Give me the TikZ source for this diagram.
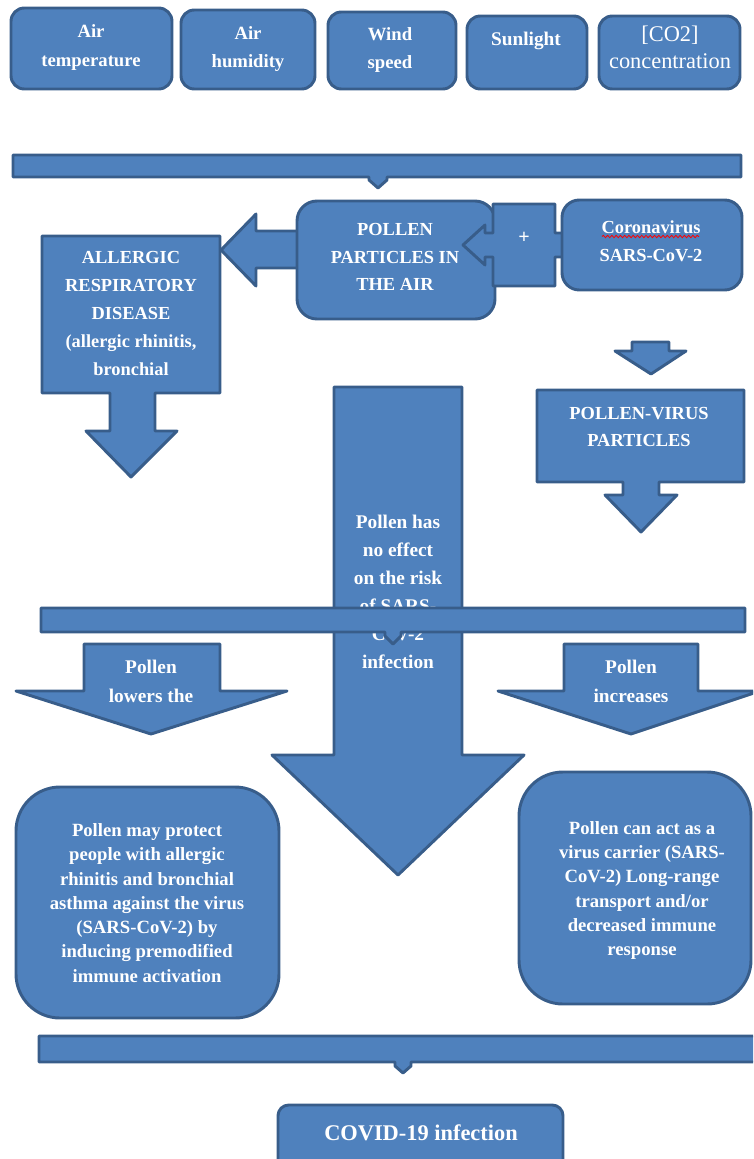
\documentclass[tikz,border=0pt]{standalone}
\usepackage{fontspec}
\setmainfont{Liberation Serif}
\usetikzlibrary{decorations.pathmorphing}
\definecolor{boxfill}{HTML}{4F81BD}
\definecolor{boxedge}{HTML}{385D8A}
\tikzset{
  shp/.style={fill=boxfill, draw=boxedge, line width=2.2pt, line join=round},
  lbl/.style={text=white, font=\bfseries\fontsize{13.8}{21}\selectfont, align=center, inner sep=0pt},
  lblsm/.style={text=white, font=\bfseries\fontsize{14}{18.2}\selectfont, align=center, inner sep=0pt},
}
\begin{document}
\begin{tikzpicture}[x=0.75pt,y=-0.75pt]
\useasboundingbox (0,0) rectangle (753,1159);
\clip (0,0) rectangle (753,1159);

% top factor boxes
\draw[shp, rounded corners=10pt] (11,8) rectangle (172,89);
\draw[shp, rounded corners=10pt] (181,10) rectangle (315,89);
\draw[shp, rounded corners=10pt] (328,12) rectangle (456,89);
\draw[shp, rounded corners=10pt] (467,16) rectangle (587,89);
\draw[shp, rounded corners=10pt] (599,16) rectangle (740,89);
\node[lbl, font=\bfseries\fontsize{14}{21.75}\selectfont] (t1) at (91,47.5) {Air\\temperature};
\node[lbl, font=\bfseries\fontsize{14}{21}\selectfont] (t2) at (248,49) {Air\\humidity};
\node[lbl, font=\bfseries\fontsize{14}{21}\selectfont] (t3) at (390,50) {Wind\\speed};
\node[lbl, font=\bfseries\fontsize{14.5}{21}\selectfont] (t4) at (526,41) {Sunlight};
\node[lbl, font=\fontsize{16.8}{20.5}\selectfont] (t5) at (670,47.5) {[CO2]\\concentration};

% bar 1
\draw[shp] (13,155) -- (741,155) -- (741,177) -- (387,177) -- (387,180) -- (378,188) -- (369,180) -- (369,177) -- (13,177) -- cycle;

% big left arrow
\draw[shp] (300,231) -- (256,231) -- (256,214) -- (221,250) -- (256,286) -- (256,268) -- (300,268) -- cycle;
% pollen box
\draw[shp, rounded corners=15pt] (297,201) rectangle (495,319);
\node[lbl, font=\bfseries\fontsize{13.8}{20.6}\selectfont] (pollen) at (395,257) {POLLEN\\PARTICLES IN\\THE AIR};
% plus callout
\draw[shp] (493,204) -- (555,204) -- (555,233) -- (566,233) -- (566,257) -- (555,257) -- (555,286) -- (493,286) -- (493,257) -- (485,257) -- (485,265) -- (463,245) -- (485,225) -- (485,233) -- (493,233) -- cycle;
\node[lbl, font=\bfseries\fontsize{15}{21}\selectfont] (plus) at (524,238) {+};
% coronavirus box
\draw[shp, rounded corners=13pt] (562,200) rectangle (742,290);
\node[lbl] (corona) at (651,241) {Coronavirus\\SARS-CoV-2};
\draw[red, line width=0.6pt, decorate, decoration={snake, amplitude=0.9pt, segment length=3.2pt}] (602,236.5) -- (699,236.5);

% allergic callout
\draw[shp] (42,236) -- (220,236) -- (220,393) -- (155,393) -- (155,431) -- (177,431) -- (131,477) -- (86,431) -- (110,431) -- (110,393) -- (42,393) -- cycle;
\node[lbl] (allergic) at (131,313.5) {ALLERGIC\\RESPIRATORY\\DISEASE\\(allergic rhinitis,\\bronchial};

% small arrow and pollen-virus callout
\draw[shp] (632,342) -- (669,342) -- (669,351) -- (686,351) -- (651,374) -- (615,351) -- (632,351) -- cycle;
\draw[shp] (537,390) -- (744,390) -- (744,482) -- (659,482) -- (659,495) -- (677,495) -- (641,532) -- (605,495) -- (623,495) -- (623,482) -- (537,482) -- cycle;
\node[lbl, font=\bfseries\fontsize{13.8}{20.25}\selectfont] (pv) at (639,426.5) {POLLEN-VIRUS\\PARTICLES};

% central arrow
\draw[shp] (334,387) -- (462,387) -- (462,755) -- (524,755) -- (398,875) -- (272,755) -- (334,755) -- cycle;
\node[lbl, font=\bfseries\fontsize{14.5}{21}\selectfont] (noeff) at (398,592) {Pollen has\\no effect\\on the risk\\of SARS-\\CoV-2\\infection};

% bar 2
\draw[shp] (41,608) -- (745,608) -- (745,632) -- (401,632) -- (401,636) -- (393,644) -- (385,636) -- (385,632) -- (41,632) -- cycle;

% lowers / increases arrows
\draw[shp] (84,644) -- (220,644) -- (220,691) -- (287,691) -- (151,734) -- (16,691) -- (84,691) -- cycle;
\node[lbl, font=\bfseries\fontsize{14.5}{21.75}\selectfont] (lower) at (151,681.5) {Pollen\\lowers the};
\draw[shp] (564,644) -- (698,644) -- (698,691) -- (760,691) -- (631,734) -- (498,691) -- (564,691) -- cycle;
\node[lbl, font=\bfseries\fontsize{14.5}{21.75}\selectfont] (incr) at (631,681.5) {Pollen\\increases};

% bottom boxes
\draw[shp, rounded corners=33pt] (16,787) rectangle (279,1018);
\node[lblsm] (protect) at (147,903) {Pollen may protect\\people with allergic\\rhinitis and bronchial\\asthma against the virus\\(SARS-CoV-2) by\\inducing premodified\\immune activation};
\draw[shp, rounded corners=33pt] (519,772) rectangle (751,1004);
\node[lblsm] (carrier) at (642,890.5) {Pollen can act as a\\virus carrier (SARS-\\CoV-2) Long-range\\transport and/or\\decreased immune\\response};

% bar 3
\draw[shp] (39,1036) -- (770,1036) -- (770,1062) -- (411,1062) -- (411,1066) -- (403,1073) -- (395,1066) -- (395,1062) -- (39,1062) -- cycle;

% covid box
\draw[shp, rounded corners=8pt] (278,1105) rectangle (563,1180);
\node[lbl, font=\bfseries\fontsize{16.8}{18}\selectfont] (covid) at (421,1133) {COVID-19 infection};
\end{tikzpicture}
\end{document}
